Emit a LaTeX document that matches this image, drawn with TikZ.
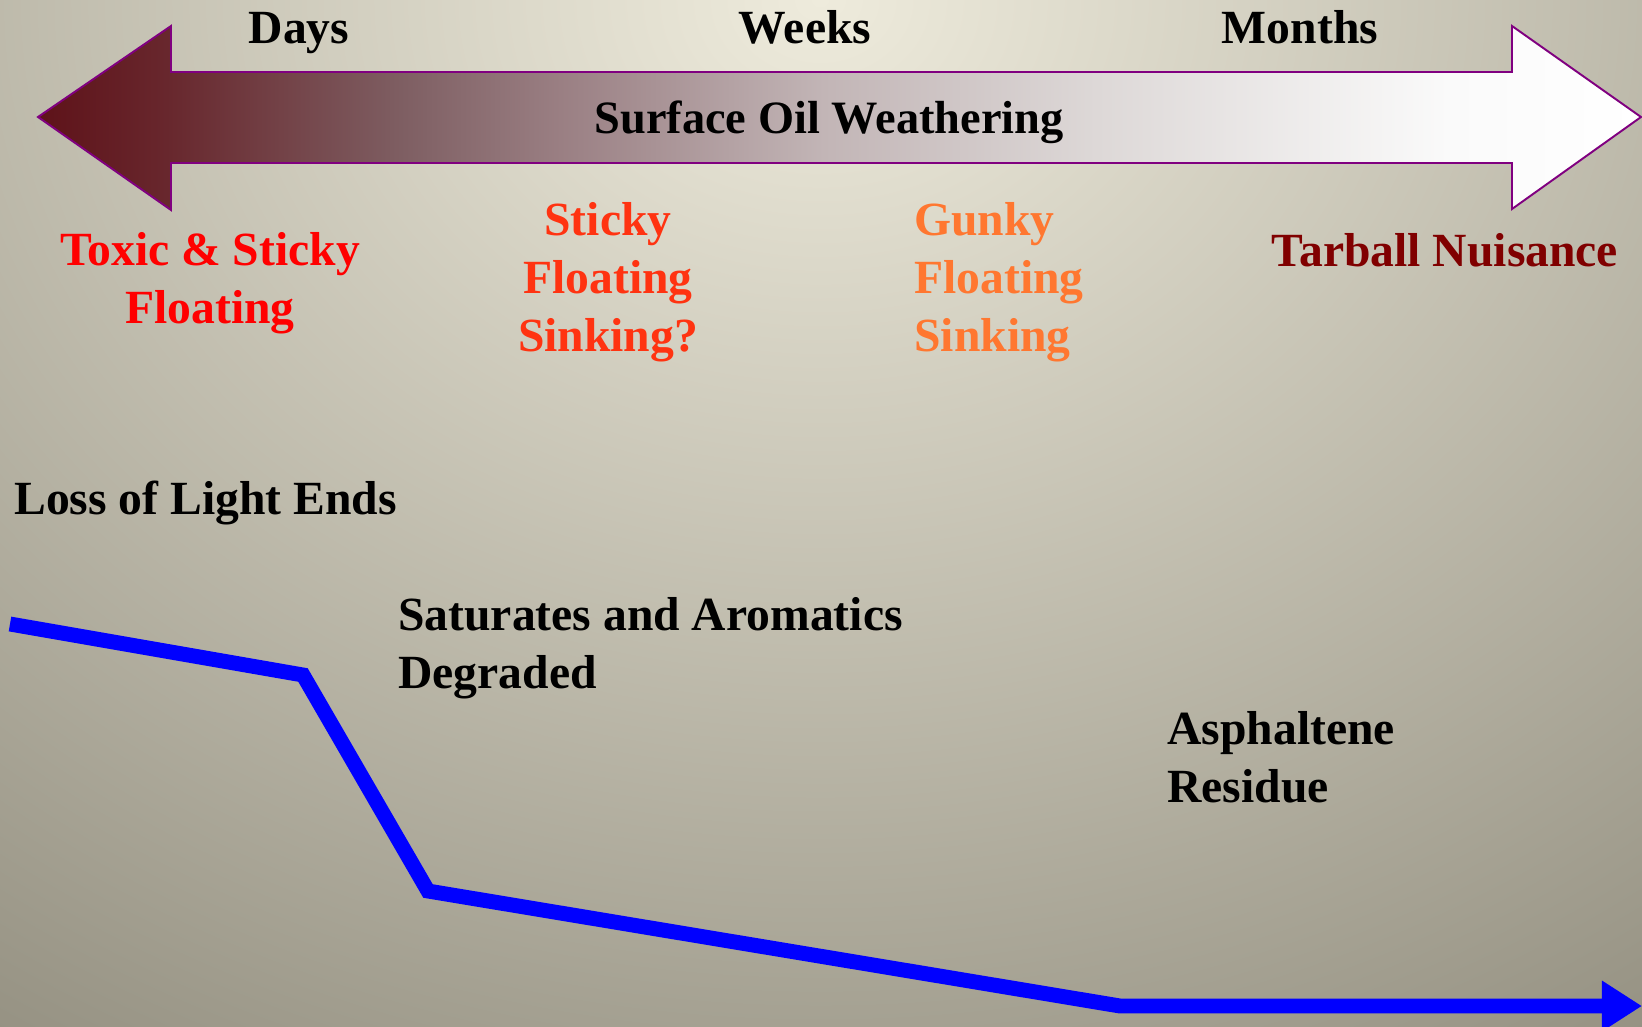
\documentclass[tikz,border=0pt]{standalone}
\usepackage{fontspec}
\setmainfont{Liberation Serif}
\usetikzlibrary{arrows.meta}
\definecolor{bgtop}{HTML}{EEEBDC}
\definecolor{bgbot}{HTML}{8A8677}
\definecolor{rimpurple}{HTML}{800080}
\definecolor{toxicred}{HTML}{FF0000}
\definecolor{stickyred}{HTML}{FF3311}
\definecolor{gunkyorange}{HTML}{FF7730}
\definecolor{tarred}{HTML}{800000}
\definecolor{oila}{HTML}{5E1219}
\definecolor{oilb}{HTML}{68272D}
\definecolor{oilc}{HTML}{7E5E62}
\definecolor{oild}{HTML}{9A7F83}
\definecolor{oile}{HTML}{C2B5B6}
\definecolor{oilf}{HTML}{DDD8D7}
\definecolor{oilg}{HTML}{FAFAFA}
\pgfdeclarehorizontalshading{oilfade}{100bp}{color(0bp)=(oila); color(25bp)=(oila);
	color(29bp)=(oilb); color(36.3bp)=(oilc); color(41.3bp)=(oild); color(49.5bp)=(oile);
	color(58bp)=(oilf); color(69bp)=(oilg); color(75bp)=(white); color(100bp)=(white)}

\begin{document}
\begin{tikzpicture}[x=0.02cm, y=-0.02cm,
		lbl/.style={font=\fontsize{27.1}{33}\selectfont\bfseries, inner sep=0pt},
		oilpath/.style={draw=blue, line width=8.5pt, -{Triangle[length=22.8pt, width=27.3pt]}}]
		\useasboundingbox (0,0) rectangle (1642,1027);
		\begin{scope}
		\clip (0,0) rectangle (1642,1027);
		\fill[bgbot] (0,0) rectangle (1642,1027);
		\shade[inner color=bgtop, outer color=bgbot] (820,0) ellipse (1700 and 1400);
		\end{scope}
		% time arrow
		\shadedraw[shading=oilfade, draw=rimpurple, line width=1.1pt]
		(38,117) -- (171,26) -- (171,72) -- (1512,72) -- (1512,26) -- (1641,117)
		-- (1512,209) -- (1512,163) -- (171,163) -- (171,210) -- cycle;
		\node[lbl, anchor=base] (days) at (299,44) {Days};
		\node[lbl, anchor=base] (weeks) at (805,44) {Weeks};
		\node[lbl, anchor=base] (months) at (1300,44) {Months};
		\node[lbl, font=\fontsize{26.4}{33}\selectfont\bfseries, anchor=base] (title) at (829,134)
		{Surface Oil Weathering};
		% stages
		\node[lbl, anchor=base, align=center, text=toxicred] (toxic) at (210,323)
		{Toxic \& Sticky\\Floating};
		\node[lbl, anchor=base, align=center, text=stickyred] (sticky) at (608,351)
		{Sticky\\Floating\\Sinking?};
		\node[lbl, anchor=base west, align=left, text=gunkyorange] (gunky) at (914,351)
		{Gunky\\Floating\\Sinking};
		\node[lbl, anchor=base, text=tarred] (tarball) at (1445,266) {Tarball Nuisance};
		% processes
		\node[lbl, anchor=base west] (loss) at (14,514) {Loss of Light Ends};
		\node[lbl, anchor=base west, align=left] (satur) at (398,688)
		{Saturates and Aromatics\\Degraded};
		\node[lbl, anchor=base west, align=left] (asph) at (1167,802)
		{Asphaltene\\Residue};
		% decline
		\coordinate (l0) at (10,624);
		\coordinate (l1) at (303,675);
		\coordinate (l2) at (428,891);
		\coordinate (l3) at (1120,1006);
		\coordinate (l4) at (1642,1006);
		\draw[oilpath] (l0) -- (l1) -- (l2) -- (l3) -- (l4);
\end{tikzpicture}
\end{document}
